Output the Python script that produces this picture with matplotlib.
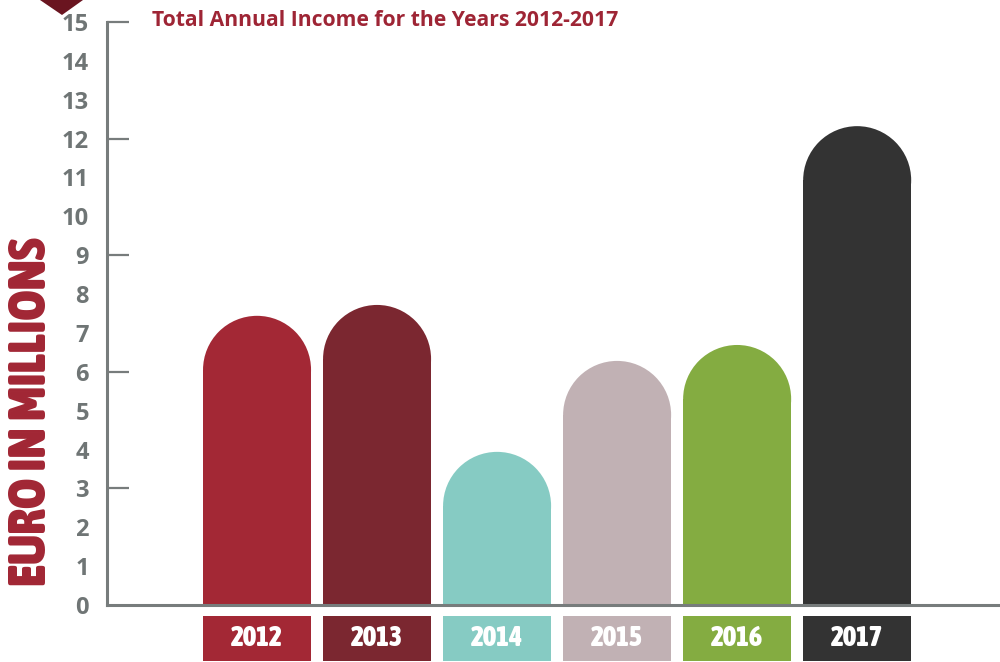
import matplotlib.pyplot as plt
from matplotlib import font_manager as fm
from matplotlib.patches import Rectangle, Ellipse, Polygon
from matplotlib.ticker import FixedLocator

years = ["2012", "2013", "2014", "2015", "2016", "2017"]
income = [7.44, 7.72, 3.94, 6.28, 6.69, 12.32]
colors = ["#a32835", "#7b2730", "#86cbc3", "#c1b1b4", "#84ac41", "#333333"]
yticks = list(range(0, 16))
marked_ticks = [3, 6, 9, 12, 15]

gray = "#777c7c"
red = "#9e2535"

STRETCH = {"ultra-condensed": 50, "extra-condensed": 62, "condensed": 75,
           "semi-condensed": 87}


def weight_num(f):
    wt = f.weight
    if isinstance(wt, str):
        return {"bold": 700, "heavy": 800, "extra bold": 800, "black": 900,
                "demibold": 600, "semibold": 600}.get(wt, 400)
    return wt


def stretch_num(f):
    s = f.stretch
    if isinstance(s, str):
        return STRETCH.get(s, 100)
    return s


# pick the narrowest bold face that is installed
cands = [f for f in fm.fontManager.ttflist if weight_num(f) >= 700 and stretch_num(f) < 100]
cands.sort(key=lambda f: (stretch_num(f), -weight_num(f)))
if cands:
    narrow = fm.FontProperties(fname=cands[0].fname)
else:
    narrow = fm.FontProperties(family="DejaVu Sans", weight="bold")

fig = plt.figure(figsize=(10, 6.62), dpi=100)
ax = fig.add_axes([0.107, 0.0861, 0.893, 0.8807])
xmin, xmax = -1.25, 6.19
ax.set_xlim(xmin, xmax)
ax.set_ylim(0, 15)

# bar width and round cap height (cap is a circle on screen)
w = 0.9
px_x = 0.893 * 1000 / (xmax - xmin)
px_y = 0.8807 * 662 / 15
cap_h = w * px_x / px_y
r = cap_h / 2

year_texts = []
for i, (v, c) in enumerate(zip(income, colors)):
    ax.add_patch(Rectangle((i - w / 2, 0), w, v - r, facecolor=c, lw=0))
    ax.add_patch(Ellipse((i, v - r), w, cap_h, facecolor=c, lw=0))
    # year box under the axis
    ax.add_patch(Rectangle((i - w / 2, -1.45), w, 1.16, facecolor=c, lw=0, clip_on=False))
    t = ax.text(i, -0.87, years[i], ha="center", va="center", color="white",
                fontproperties=narrow, fontsize=20)
    year_texts.append(t)

for s in ["top", "right"]:
    ax.spines[s].set_visible(False)
for s in ["left", "bottom"]:
    ax.spines[s].set_color(gray)
    ax.spines[s].set_linewidth(2.2)

ax.set_xticks([])
ax.set_yticks(yticks)
ax.set_yticklabels([str(t) for t in yticks], family="Open Sans", fontweight="bold",
                   fontsize=17, color="#6f7575")
ax.tick_params(axis="y", which="major", length=0, pad=13)
ax.yaxis.set_minor_locator(FixedLocator(marked_ticks))
ax.yaxis.remove_overlapping_locs = False
ax.tick_params(axis="y", which="minor", direction="in", length=16, width=1.6, color=gray)

fig.text(0.152, 1 - 26 / 662, "Total Annual Income for the Years 2012-2017",
         family="Open Sans", fontweight="bold", fontsize=15.2, color=red, va="baseline")

ylab = fig.text(0.032, 1 - 412 / 662, "EURO IN MILLIONS", rotation=90, ha="center",
                va="center", fontproperties=narrow, fontsize=40, color="#a12634")

# shrink the narrow texts until they are no longer than in the picture
fig.canvas.draw()
rend = fig.canvas.get_renderer()
L = ylab.get_window_extent(rend).height
if L > 350:
    ylab.set_fontsize(40 * 350 / L)
W = year_texts[0].get_window_extent(rend).width
if W > 54:
    for t in year_texts:
        t.set_fontsize(20 * 54 / W)

# little marker triangle at top left
fig.patches.append(Polygon([[0.040, 1.0], [0.083, 1.0], [0.062, 1 - 15 / 662]],
                           closed=True, facecolor="#6a1520", lw=0, transform=fig.transFigure))

fig.savefig("out.png", dpi=100)
